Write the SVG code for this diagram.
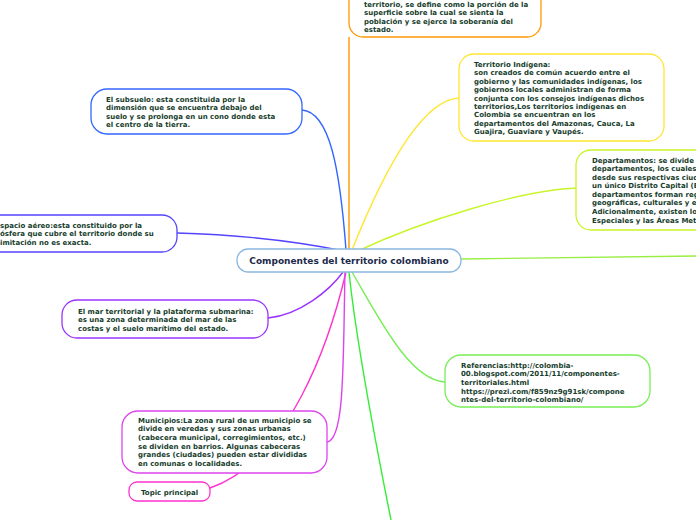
<svg xmlns="http://www.w3.org/2000/svg" width="696" height="520" viewBox="0 0 696 520">
<style>
.t{font-family:"DejaVu Sans",Verdana,sans-serif;font-size:7px;font-weight:bold;fill:#163d2c}
.box{fill:#fff;stroke-width:1.3}
.c{fill:none;stroke-width:1.4}
.title{font-family:"DejaVu Sans",Verdana,sans-serif;font-size:9px;font-weight:bold;fill:#1c2a4a}
</style>
<rect width="696" height="520" fill="#fff"/>
<g id="connectors">
<path class="c" stroke="#ff9900" d="M349,37 L349,250"/>
<path class="c" stroke="#ffe633" d="M352,250 C380,180 420,100 459,98"/>
<path class="c" stroke="#c8f526" d="M360,250 C420,222 520,190 577,188"/>
<path class="c" stroke="#99ee44" d="M461,259 C520,258 600,257 696,256"/>
<path class="c" stroke="#3366ff" d="M346,250 C340,170 330,112 302,110"/>
<path class="c" stroke="#5544ff" d="M177,233 C250,235 300,242 344,251"/>
<path class="c" stroke="#9933ff" d="M268,318 C300,315 330,290 343,272"/>
<path class="c" stroke="#77ee55" d="M352,272 C380,320 410,380 445,382"/>
<path class="c" stroke="#33ee33" d="M349,272 C355,330 375,440 391,520"/>
<path class="c" stroke="#ff33cc" d="M346,272 C330,340 290,460 210,488"/>
<path class="c" stroke="#dd44ee" d="M345,272 C343,360 345,440 327,442"/>
</g>
<g id="central">
<rect class="box" x="237" y="249" width="224" height="23" rx="11" stroke="#8ab8e0" stroke-width="2"/>
<text class="title" x="349" y="264" text-anchor="middle">Componentes del territorio colombiano</text>
</g>
<g id="territorio">
<rect class="box" x="349" y="-30" width="192" height="67" rx="14" stroke="#ff9900"/>
<text class="t" x="364" y="6.5">territorio, se define como la porción de la</text>
<text class="t" x="364" y="15">superficie sobre la cual se sienta la</text>
<text class="t" x="364" y="23.5">población y se ejerce la soberanía del</text>
<text class="t" x="364" y="32">estado.</text>
</g>
<g id="indigena">
<rect class="box" x="459" y="54" width="205" height="87" rx="15" stroke="#ffe633"/>
<text class="t" x="474" y="67">Territorio Indígena:</text>
<text class="t" x="474" y="75.4">son creados de común acuerdo entre el</text>
<text class="t" x="474" y="83.8">gobierno y las comunidades indígenas, los</text>
<text class="t" x="474" y="92.2">gobiernos locales administran de forma</text>
<text class="t" x="474" y="100.6">conjunta con los consejos indígenas dichos</text>
<text class="t" x="474" y="109">territorios,Los territorios indígenas en</text>
<text class="t" x="474" y="117.4">Colombia se encuentran en los</text>
<text class="t" x="474" y="125.8">departamentos del Amazonas, Cauca, La</text>
<text class="t" x="474" y="134.2">Guajira, Guaviare y Vaupés.</text>
</g>
<g id="departamentos">
<rect class="box" x="576" y="150" width="140" height="80" rx="15" stroke="#c8f526"/>
<text class="t" x="592" y="162.5">Departamentos: se divide e</text>
<text class="t" x="592" y="171">departamentos, los cuales</text>
<text class="t" x="592" y="179.6">desde sus respectivas ciud</text>
<text class="t" x="592" y="188.2">un único Distrito Capital (B</text>
<text class="t" x="592" y="196.8">departamentos forman reg</text>
<text class="t" x="592" y="205.4">geográficas, culturales y e</text>
<text class="t" x="592" y="214">Adicionalmente, existen lo</text>
<text class="t" x="592" y="222.6">Especiales y las Áreas Metr</text>
</g>
<g id="subsuelo">
<rect class="box" x="91" y="89" width="211" height="45" rx="16" stroke="#3366ff"/>
<text class="t" x="106" y="101.5">El subsuelo: esta constituida por la</text>
<text class="t" x="106" y="110">dimensión que se encuentra debajo del</text>
<text class="t" x="106" y="118.5">suelo y se prolonga en un cono donde esta</text>
<text class="t" x="106" y="127">el centro de la tierra.</text>
</g>
<g id="espacio">
<rect class="box" x="-30" y="215" width="207" height="37" rx="15" stroke="#5544ff"/>
<text class="t" x="0" y="227.5">spacio aéreo:esta constituido por la</text>
<text class="t" x="0" y="236">ósfera que cubre el territorio donde su</text>
<text class="t" x="0" y="244.5">imitación no es exacta.</text>
</g>
<g id="mar">
<rect class="box" x="62" y="300" width="206" height="38" rx="15" stroke="#9933ff"/>
<text class="t" x="78" y="313.5">El mar territorial y la plataforma submarina:</text>
<text class="t" x="78" y="322">es una zona determinada del mar de las</text>
<text class="t" x="78" y="330.5">costas y el suelo marítimo del estado.</text>
</g>
<g id="referencias">
<rect class="box" x="445" y="355" width="205" height="52" rx="16" stroke="#77ee55"/>
<text class="t" x="461" y="367.5">Referencias:http://colombia-</text>
<text class="t" x="461" y="376.2">00.blogspot.com/2011/11/componentes-</text>
<text class="t" x="461" y="384.9">territoriales.html</text>
<text class="t" x="461" y="393.6">https://prezi.com/f859nz9g91sk/compone</text>
<text class="t" x="461" y="402.3">ntes-del-territorio-colombiano/</text>
</g>
<g id="municipios">
<rect class="box" x="122" y="411" width="205" height="62" rx="16" stroke="#dd44ee"/>
<text class="t" x="138" y="422.5">Municipios:La zona rural de un municipio se</text>
<text class="t" x="138" y="431.2">divide en veredas y sus zonas urbanas</text>
<text class="t" x="138" y="439.9">(cabecera municipal, corregimientos, etc.)</text>
<text class="t" x="138" y="448.6">se dividen en barrios. Algunas cabeceras</text>
<text class="t" x="138" y="457.3">grandes (ciudades) pueden estar divididas</text>
<text class="t" x="138" y="466">en comunas o localidades.</text>
</g>
<g id="topic">
<rect class="box" x="129" y="482" width="81" height="19" rx="8" stroke="#ff33cc"/>
<text class="t" x="141" y="494.5">Topic principal</text>
</g>
</svg>
